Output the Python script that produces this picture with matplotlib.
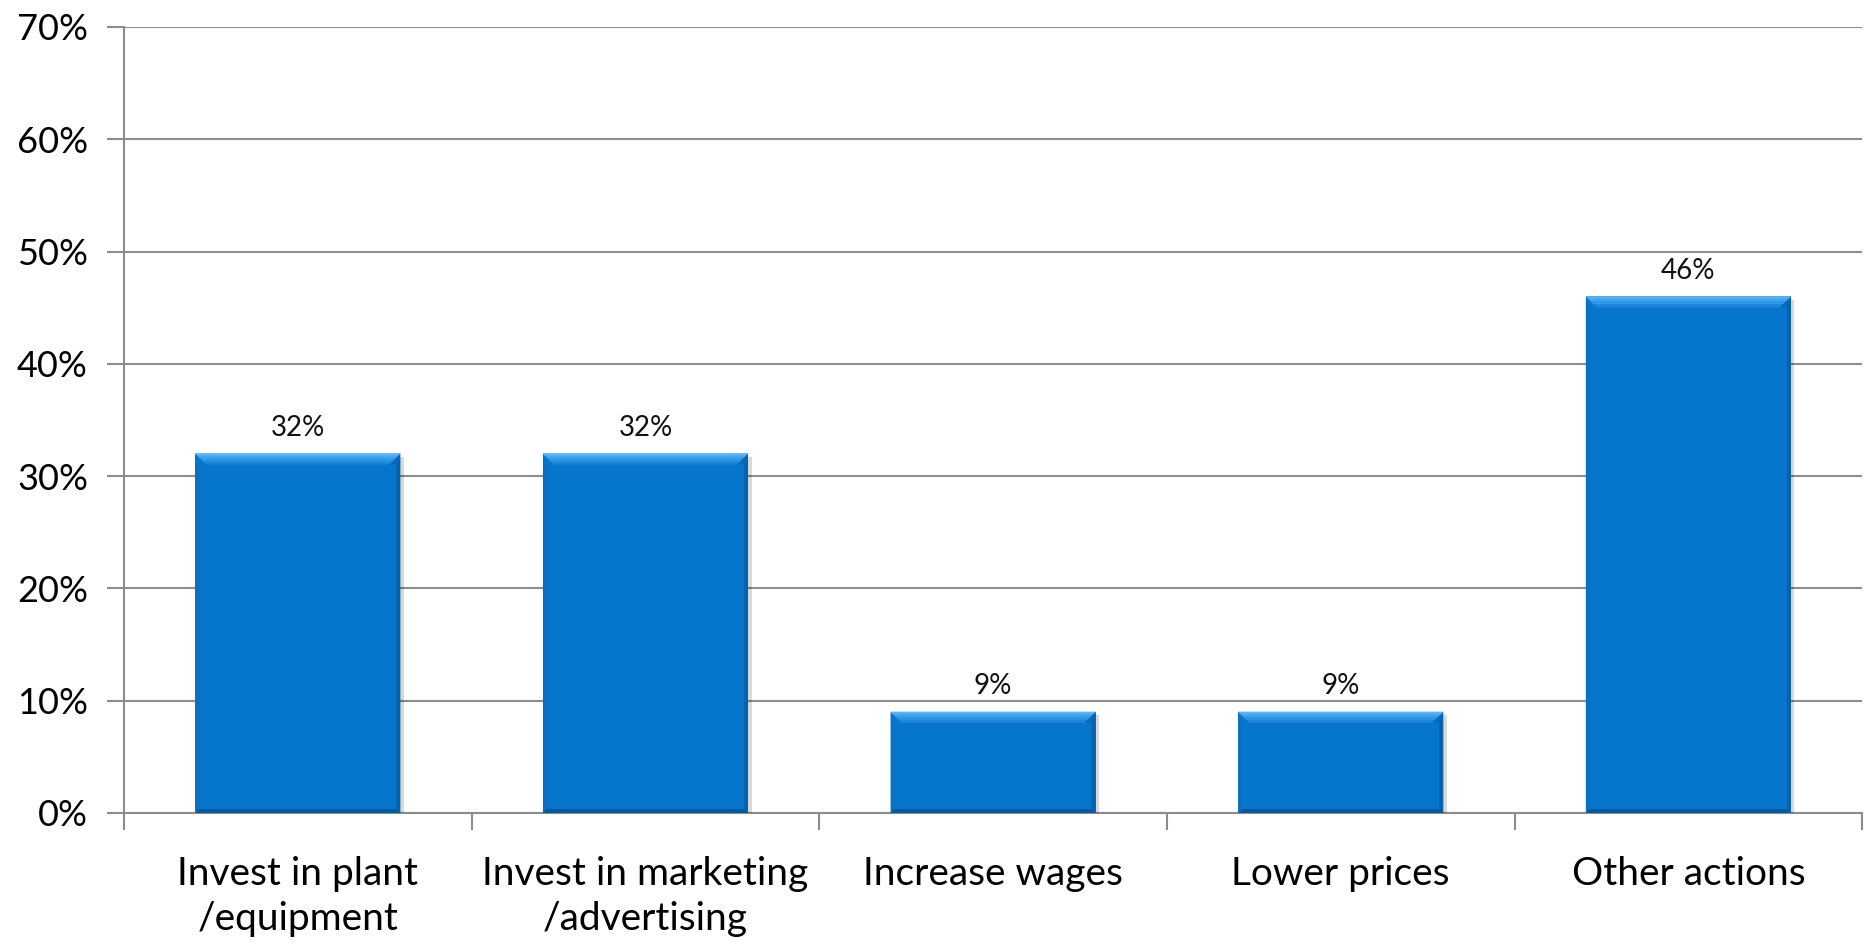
import matplotlib.pyplot as plt
import matplotlib.patheffects as pe
from matplotlib.patches import Polygon
from matplotlib.ticker import FuncFormatter, MultipleLocator

# Survey answers: share of firms per action
categories = ['Invest in plant\n/equipment', 'Invest in marketing\n/advertising',
              'Increase wages', 'Lower prices', 'Other actions']
shares = [32, 32, 9, 9, 46]

plt.rcParams['font.family'] = ['Lato', 'DejaVu Sans']

fig = plt.figure(figsize=(18.65, 9.44), dpi=100)
ax = fig.add_axes([0.0665, 0.1388, 0.932, 0.8326])

grid_c = '#8c8c8c'
face = '#0676cc'

x = list(range(len(categories)))
bars = ax.bar(x, shares, width=0.59, color=face, zorder=3, linewidth=0,
              path_effects=[pe.SimplePatchShadow(offset=(2.5, -2.5), shadow_rgbFace='#000000', alpha=0.15),
                            pe.Normal()])

# bevel edges on each bar, sized in pixels then converted to data units
px_x = 1 / 347.6
px_y = 10 / 112.3


def band(pts, c):
    ax.add_patch(Polygon(pts, closed=True, color=c, lw=0, zorder=4))


for b in bars:
    x0, y0 = b.get_x(), 0
    x1, y1 = x0 + b.get_width(), b.get_height()
    t = 11 * px_y
    tx = 11 * px_x
    s = 4 * px_x
    sb = 4 * px_y
    # sides and bottom
    band([(x1, y1), (x1, y0), (x1 - s, y0 + sb), (x1 - s, y1 - t)], '#0563ae')
    band([(x0, y1), (x0, y0), (x0 + s, y0 + sb), (x0 + s, y1 - t)], '#0b70c2')
    band([(x0, y0), (x1, y0), (x1 - s, y0 + sb), (x0 + s, y0 + sb)], '#045aa2')
    # top bevel, lighter towards the edge
    for frac, c in [(1.0, '#1d86d8'), (0.7, '#2f97e6'), (0.4, '#44a6ee'), (0.15, '#63b6f2')]:
        band([(x0, y1), (x1, y1), (x1 - tx * frac, y1 - t * frac), (x0 + tx * frac, y1 - t * frac)], c)
    # corner diagonals
    band([(x1, y1), (x1 - tx, y1 - t), (x1 - s, y1 - t)], '#0769b8')

for b, v in zip(bars, shares):
    ax.annotate(f'{v}%', (b.get_x() + b.get_width() / 2, v), xytext=(0, 9),
                textcoords='offset points', ha='center', va='bottom', fontsize=20, color='#111111')

ax.set_xlim(-0.5, len(categories) - 0.5)
ax.set_ylim(0, 70)
ax.yaxis.set_major_locator(MultipleLocator(10))
ax.yaxis.set_major_formatter(FuncFormatter(lambda v, p: f'{v:.0f}%'))
ax.yaxis.grid(True, color=grid_c, linewidth=1.5, zorder=0)
ax.set_axisbelow(True)

ax.set_xticks([i - 0.5 for i in range(len(categories) + 1)])
ax.set_xticklabels([])
ax.set_xticks(x, minor=True)
ax.set_xticklabels(categories, minor=True, fontsize=28, linespacing=1.3)
ax.tick_params(axis='x', which='minor', length=0, pad=31)
ax.tick_params(axis='x', which='major', length=12, width=1.5, color=grid_c)
ax.tick_params(axis='y', length=12, width=1.5, color=grid_c, labelsize=26, pad=14)

for side in ['top', 'right']:
    ax.spines[side].set_visible(False)
for side in ['left', 'bottom']:
    ax.spines[side].set_color(grid_c)
    ax.spines[side].set_linewidth(1.5)

fig.savefig('out.png', dpi=100)
